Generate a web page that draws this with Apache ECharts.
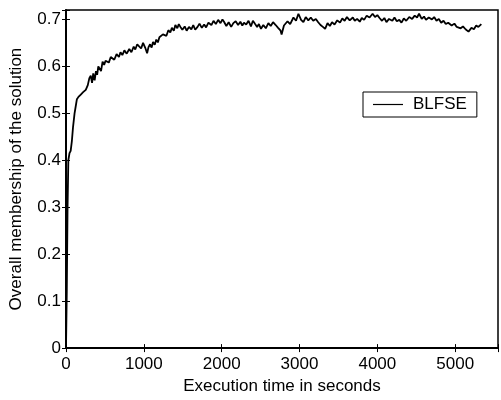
<!DOCTYPE html>
<html>
<head>
<meta charset="utf-8">
<title>BLFSE</title>
<script src="https://cdn.jsdelivr.net/npm/echarts/dist/echarts.min.js"></script>
<style>
	html, body { margin: 0; padding: 0; background: #fff; }
	#memChart { width: 501px; height: 400px; }
</style>
</head>
<body>
<div id="memChart"></div>
<script>
/* execution time (s) and overall membership */
var execTime = [0, 10, 20, 30, 45, 60, 75, 90, 110, 125, 140, 160, 190, 220, 254, 280, 300, 318, 335, 350,
	368, 385, 400, 415, 432, 450, 470, 490, 508, 530, 550, 575, 597, 620, 650, 680, 700, 724, 750, 780,
	813, 840, 870, 890, 915, 940, 965, 990, 1017, 1042, 1060, 1080, 1100, 1118, 1140, 1160, 1180, 1200, 1220, 1245,
	1270, 1290, 1315, 1340, 1360, 1385, 1405, 1430, 1449, 1470, 1495, 1525, 1550, 1580, 1610, 1635, 1660, 1690, 1715, 1745,
	1775, 1800, 1830, 1868, 1895, 1925, 1955, 1985, 2010, 2030, 2060, 2090, 2122, 2150, 2180, 2211, 2240, 2265, 2287, 2315,
	2345, 2376, 2401, 2430, 2455, 2478, 2505, 2535, 2567, 2600, 2630, 2660, 2694, 2725, 2757, 2770, 2800, 2846, 2880, 2922,
	2955, 2986, 3020, 3050, 3080, 3113, 3145, 3176, 3210, 3240, 3270, 3300, 3329, 3360, 3390, 3418, 3450, 3485, 3520, 3550,
	3580, 3609, 3645, 3685, 3710, 3740, 3774, 3800, 3830, 3863, 3900, 3939, 3970, 4000, 4028, 4060, 4090, 4117, 4150, 4193,
	4220, 4250, 4282, 4310, 4340, 4371, 4410, 4447, 4480, 4510, 4536, 4570, 4600, 4625, 4660, 4701, 4730, 4760, 4790, 4820,
	4850, 4879, 4910, 4955, 4990, 5020, 5044, 5070, 5100, 5133, 5171, 5209, 5240, 5270, 5298, 5336];

var membership = [0, 0.12, 0.30, 0.40, 0.415, 0.42, 0.44, 0.47, 0.50, 0.515, 0.53, 0.535, 0.54, 0.545, 0.55, 0.56, 0.575, 0.58, 0.565, 0.585,
	0.57, 0.59, 0.582, 0.60, 0.598, 0.59, 0.61, 0.603, 0.612, 0.616, 0.608, 0.62, 0.622, 0.614, 0.626, 0.62, 0.63, 0.624, 0.634, 0.627,
	0.637, 0.63, 0.642, 0.636, 0.647, 0.645, 0.638, 0.65, 0.64, 0.628, 0.641, 0.647, 0.64, 0.652, 0.646, 0.657, 0.651, 0.662, 0.658, 0.668,
	0.671, 0.665, 0.677, 0.672, 0.682, 0.676, 0.688, 0.681, 0.69, 0.684, 0.678, 0.685, 0.676, 0.684, 0.679, 0.688, 0.678, 0.684, 0.691, 0.682,
	0.689, 0.683, 0.693, 0.688, 0.697, 0.69, 0.699, 0.692, 0.70, 0.695, 0.686, 0.694, 0.684, 0.692, 0.696, 0.688, 0.695, 0.687, 0.693, 0.689,
	0.697, 0.685, 0.697, 0.69, 0.684, 0.69, 0.68, 0.688, 0.681, 0.692, 0.686, 0.694, 0.688, 0.682, 0.676, 0.668, 0.687, 0.696, 0.69, 0.704,
	0.697, 0.712, 0.699, 0.694, 0.705, 0.698, 0.704, 0.697, 0.701, 0.694, 0.688, 0.684, 0.68, 0.692, 0.686, 0.694, 0.689, 0.698, 0.693, 0.702,
	0.697, 0.705, 0.698, 0.704, 0.697, 0.701, 0.695, 0.703, 0.699, 0.708, 0.704, 0.712, 0.705, 0.709, 0.703, 0.697, 0.703, 0.694, 0.701, 0.697,
	0.704, 0.696, 0.699, 0.693, 0.702, 0.697, 0.705, 0.701, 0.708, 0.704, 0.712, 0.701, 0.706, 0.699, 0.704, 0.70, 0.705, 0.697, 0.701, 0.693,
	0.697, 0.69, 0.693, 0.687, 0.691, 0.684, 0.688, 0.681, 0.685, 0.679, 0.674, 0.682, 0.679, 0.687, 0.684, 0.69];

var xTicks = [0, 1000, 2000, 3000, 4000, 5000];
var yTicks = ['0', '0.1', '0.2', '0.3', '0.4', '0.5', '0.6', '0.7'];
var seriesName = 'BLFSE';

var font = "'Liberation Sans', Arial, Helvetica, sans-serif";

var points = [];
for (var i = 0; i < execTime.length; i++) {
	points.push([execTime[i], membership[i]]);
}

function xLabel(v) {
	return xTicks.indexOf(v) >= 0 ? String(v) : '';
}

function yLabel(v) {
	var k = Math.round(v * 10);
	if (Math.abs(v * 10 - k) > 1e-6 || k >= yTicks.length) return '';
	return yTicks[k];
}

var memOption = {
	backgroundColor: '#fff',
	animation: false,
	textStyle: { fontFamily: font, color: '#000' },
	grid: {
		left: 63,
		top: 10,
		right: 1,
		bottom: 45,
		show: true,
		borderColor: '#000',
		borderWidth: 1.5
	},
	legend: {
		data: [seriesName],
		icon: 'rect',
		left: 363,
		top: 92,
		orient: 'vertical',
		backgroundColor: '#fff',
		borderColor: '#000',
		borderWidth: 1,
		borderRadius: 0,
		padding: [4, 10, 4, 10],
		itemWidth: 30,
		itemHeight: 1.2,
		itemStyle: { color: '#000', borderWidth: 0 },
		textStyle: { fontFamily: font, fontSize: 17, color: '#000', padding: [0, 0, 0, 5] }
	},
	xAxis: [{
		type: 'value',
		min: 0,
		max: 5550,
		interval: 1000,
		name: 'Execution time in seconds',
		nameLocation: 'middle',
		nameGap: 26,
		nameTextStyle: { fontFamily: font, fontSize: 17, color: '#000' },
		axisLine: { onZero: false, lineStyle: { color: '#000', width: 2 } },
		axisTick: { inside: true, length: 4, lineStyle: { color: '#000' } },
		axisLabel: { fontFamily: font, fontSize: 17, color: '#000', margin: 8, formatter: xLabel },
		splitLine: { show: false }
	}, {
		type: 'value',
		position: 'top',
		min: 0,
		max: 5550,
		interval: 1000,
		axisLine: { show: false },
		axisTick: { inside: true, length: 4, lineStyle: { color: '#000' } },
		axisLabel: { show: false },
		splitLine: { show: false }
	}],
	yAxis: [{
		type: 'value',
		min: 0,
		max: 0.72,
		interval: 0.1,
		name: 'Overall membership of the solution',
		nameLocation: 'middle',
		nameGap: 41,
		nameTextStyle: { fontFamily: font, fontSize: 17, color: '#000' },
		axisLine: { show: true, onZero: false, lineStyle: { color: '#000', width: 2 } },
		axisTick: { show: true, inside: true, length: 4, lineStyle: { color: '#000' } },
		axisLabel: { fontFamily: font, fontSize: 17, color: '#000', margin: 5, formatter: yLabel },
		splitLine: { show: false }
	}, {
		type: 'value',
		position: 'right',
		min: 0,
		max: 0.72,
		interval: 0.1,
		axisLine: { show: false },
		axisTick: { show: true, inside: true, length: 4, lineStyle: { color: '#000' } },
		axisLabel: { show: false },
		splitLine: { show: false }
	}],
	series: [{
		name: seriesName,
		type: 'line',
		xAxisIndex: 0,
		yAxisIndex: 0,
		data: points,
		symbol: 'none',
		showSymbol: false,
		lineStyle: { color: '#000', width: 1.8 },
		itemStyle: { color: '#000' }
	}]
};

function setInit(id, option) {
	var chart = echarts.init(document.getElementById(id), null, { renderer: 'canvas' });
	chart.setOption(option);
	window.addEventListener('resize', function() {
		chart.resize();
	});
}

setInit('memChart', memOption);
</script>
</body>
</html>
